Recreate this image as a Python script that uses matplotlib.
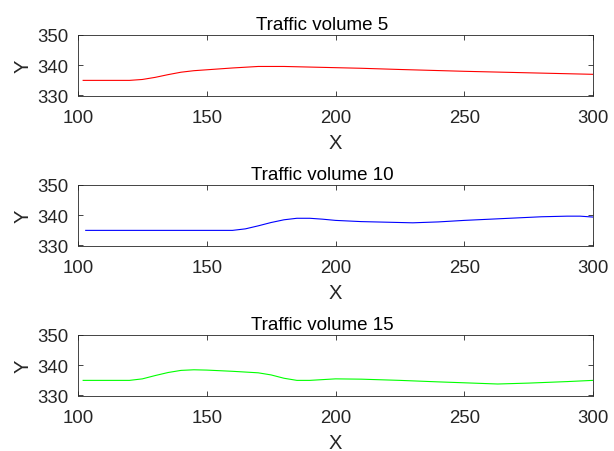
import matplotlib
matplotlib.use("Agg")
import matplotlib.pyplot as plt

plt.rcParams["font.family"] = ["Liberation Sans", "DejaVu Sans"]

titles = ["Traffic volume 5", "Traffic volume 10", "Traffic volume 15"]
colors = ["#ff0000", "#0000ff", "#00ff00"]

x_red = [102, 110, 120, 125, 130, 135, 140, 145, 150, 160, 170, 180, 190, 200, 210, 225, 250, 275, 300]
y_red = [335.0, 335.0, 335.0, 335.3, 336.0, 336.9, 337.7, 338.2, 338.5, 339.1, 339.6, 339.6, 339.4, 339.2, 339.0, 338.6, 338.0, 337.5, 337.0]

x_blue = [103, 120, 140, 160, 165, 170, 175, 180, 185, 190, 195, 200, 210, 220, 230, 240, 250, 260, 270, 280, 290, 295, 300]
y_blue = [335.0, 335.0, 335.0, 335.0, 335.5, 336.5, 337.6, 338.5, 339.0, 339.0, 338.7, 338.3, 337.9, 337.7, 337.5, 337.8, 338.3, 338.7, 339.1, 339.5, 339.7, 339.7, 339.4]

x_green = [102, 110, 120, 125, 130, 135, 140, 145, 150, 160, 170, 175, 180, 185, 190, 200, 210, 225, 240, 250, 263, 275, 290, 300]
y_green = [335.0, 335.0, 335.0, 335.5, 336.6, 337.6, 338.3, 338.5, 338.4, 338.0, 337.5, 336.8, 335.7, 335.0, 335.0, 335.5, 335.4, 335.0, 334.5, 334.2, 333.8, 334.1, 334.6, 335.0]

series = [(x_red, y_red), (x_blue, y_blue), (x_green, y_green)]

fig = plt.figure(figsize=(6.14, 4.52), dpi=100)
W, H = 614, 452
tops = [36, 186, 336]
left, right, height = 78, 593, 60.5

for (xs, ys), title, color, top in zip(series, titles, colors, tops):
    ax = fig.add_axes([left / W, 1 - (top + height) / H, (right - left) / W, height / H])
    ax.plot(xs, ys, color=color, linewidth=0.8)
    ax.set_xlim(100, 300)
    ax.set_ylim(330, 350)
    ax.set_xticks([100, 150, 200, 250, 300])
    ax.set_yticks([330, 340, 350])
    ax.tick_params(direction="in", top=True, right=True, labelsize=13.4, length=3.6,
                   width=0.6, colors="#262626")
    ax.tick_params(axis="x", pad=10)
    ax.tick_params(axis="y", pad=7)
    for sp in ax.spines.values():
        sp.set_linewidth(0.6)
        sp.set_color("#262626")
    ax.set_title(title, fontsize=13.5, pad=4, x=0.475)
    ax.set_xlabel("X", fontsize=14.5, color="#262626", labelpad=5)
    ax.set_ylabel("Y", fontsize=14.5, color="#262626", labelpad=3)

fig.savefig("out.png", dpi=100, facecolor="white")
